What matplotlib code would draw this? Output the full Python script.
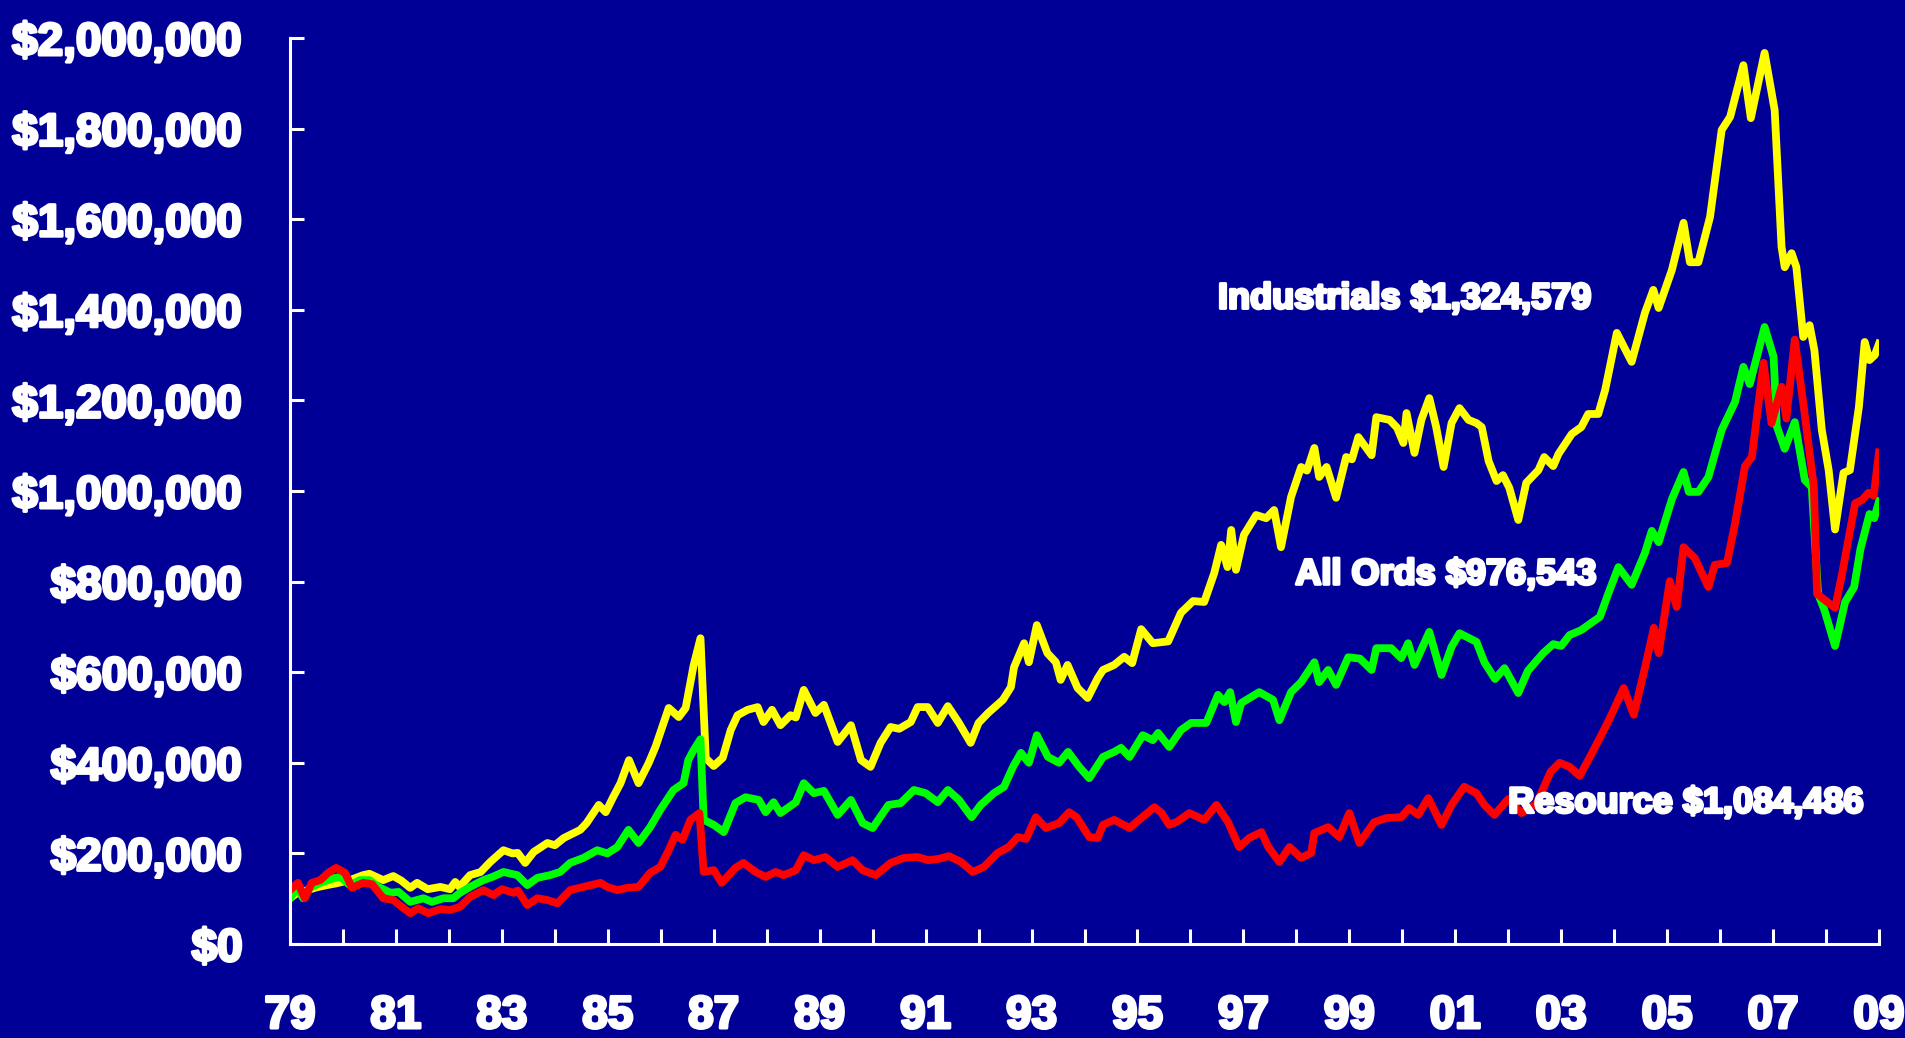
import matplotlib
matplotlib.use('Agg')
import matplotlib.pyplot as plt
import matplotlib.patheffects as pe
from matplotlib.ticker import FuncFormatter

# value of $100,000 invested (in $ thousands)
ind_years = [1979.0, 1979.13, 1979.3, 1979.5, 1979.7, 1979.88, 1980.13, 1980.38, 1980.5, 1980.76,
             1980.95, 1981.1, 1981.27, 1981.4, 1981.6, 1981.84, 1982.02, 1982.12, 1982.2, 1982.4,
             1982.6, 1982.78, 1983.03, 1983.2, 1983.3, 1983.44, 1983.6, 1983.86, 1984.0, 1984.17,
             1984.48, 1984.6, 1984.83, 1984.96, 1985.1, 1985.24, 1985.4, 1985.58, 1985.77, 1985.9,
             1986.15, 1986.34, 1986.47, 1986.62, 1986.75, 1986.85, 1987.0, 1987.17, 1987.32, 1987.45,
             1987.64, 1987.83, 1987.94, 1988.1, 1988.26, 1988.45, 1988.55, 1988.7, 1988.92, 1989.08,
             1989.34, 1989.59, 1989.78, 1989.96, 1990.15, 1990.34, 1990.5, 1990.72, 1990.85, 1991.04,
             1991.23, 1991.42, 1991.63, 1991.85, 1992.0, 1992.18, 1992.46, 1992.61, 1992.67, 1992.86,
             1992.95, 1993.1, 1993.3, 1993.46, 1993.55, 1993.68, 1993.87, 1994.06, 1994.25, 1994.35,
             1994.56, 1994.75, 1994.9, 1995.07, 1995.29, 1995.58, 1995.82, 1996.05, 1996.26, 1996.45,
             1996.58, 1996.7, 1996.77, 1996.86, 1997.01, 1997.24, 1997.43, 1997.58, 1997.71, 1997.9,
             1998.09, 1998.2, 1998.34, 1998.43, 1998.57, 1998.75, 1998.94, 1999.05, 1999.17, 1999.42,
             1999.51, 1999.76, 1999.9, 2000.02, 2000.08, 2000.23, 2000.36, 2000.51, 2000.64, 2000.78,
             2000.93, 2001.08, 2001.25, 2001.4, 2001.5, 2001.63, 2001.78, 2001.9, 2002.02, 2002.19,
             2002.34, 2002.57, 2002.68, 2002.85, 2002.95, 2003.2, 2003.38, 2003.51, 2003.7, 2003.83,
             2004.05, 2004.33, 2004.58, 2004.74, 2004.84, 2005.09, 2005.31, 2005.43, 2005.59, 2005.81,
             2006.03, 2006.19, 2006.44, 2006.58, 2006.84, 2007.03, 2007.16, 2007.22, 2007.35, 2007.44,
             2007.57, 2007.69, 2007.78, 2007.92, 2008.05, 2008.17, 2008.33, 2008.45, 2008.62, 2008.73,
             2008.82, 2008.92, 2009.0]
ind_vals = [101, 112, 118, 125, 130, 134, 141, 152, 155, 141,
            150, 140, 124, 135, 121, 126, 121, 137, 126, 152,
            159, 181, 207, 200, 201, 179, 203, 223, 218, 234,
            252, 267, 307, 291, 324, 355, 406, 355, 399, 435,
            521, 501, 521, 615, 675, 410, 393, 411, 472, 505,
            517, 523, 490, 517, 483, 505, 500, 561, 510, 528,
            446, 483, 406, 391, 444, 479, 475, 490, 523, 523,
            488, 525, 488, 444, 488, 510, 539, 567, 611, 664,
            622, 704, 642, 622, 583, 616, 565, 543, 587, 605,
            616, 634, 620, 695, 664, 668, 731, 757, 755, 819,
            881, 832, 914, 826, 903, 947, 940, 958, 876, 987,
            1053, 1045, 1095, 1031, 1053, 985, 1075, 1070, 1119, 1079,
            1163, 1157, 1140, 1106, 1172, 1084, 1157, 1205, 1141, 1053,
            1150, 1183, 1157, 1150, 1141, 1066, 1022, 1035, 1007, 936,
            1018, 1046, 1075, 1055, 1082, 1126, 1141, 1170, 1170, 1223,
            1349, 1285, 1393, 1444, 1404, 1488, 1592, 1505, 1505, 1605,
            1797, 1826, 1940, 1823, 1967, 1841, 1539, 1494, 1525, 1494,
            1340, 1366, 1311, 1135, 1046, 915, 1040, 1046, 1185, 1329,
            1289, 1300, 1325]

ao_years = [1979.0, 1979.13, 1979.25, 1979.38, 1979.57, 1979.85, 1979.95, 1980.13, 1980.32, 1980.5,
            1980.67, 1980.9, 1981.05, 1981.27, 1981.52, 1981.68, 1981.9, 1982.08, 1982.21, 1982.4,
            1982.65, 1982.82, 1983.03, 1983.29, 1983.48, 1983.67, 1983.91, 1984.1, 1984.29, 1984.54,
            1984.8, 1984.99, 1985.18, 1985.39, 1985.58, 1985.8, 1985.99, 1986.24, 1986.43, 1986.52,
            1986.62, 1986.75, 1986.81, 1987.0, 1987.19, 1987.41, 1987.6, 1987.85, 1987.98, 1988.13,
            1988.26, 1988.55, 1988.7, 1988.89, 1989.08, 1989.34, 1989.59, 1989.81, 1990.0, 1990.3,
            1990.53, 1990.78, 1991.0, 1991.23, 1991.42, 1991.63, 1991.87, 1992.04, 1992.29, 1992.48,
            1992.65, 1992.8, 1992.95, 1993.1, 1993.31, 1993.52, 1993.69, 1993.9, 1994.09, 1994.35,
            1994.56, 1994.69, 1994.85, 1995.1, 1995.29, 1995.39, 1995.6, 1995.82, 1996.01, 1996.3,
            1996.52, 1996.64, 1996.75, 1996.86, 1996.96, 1997.3, 1997.56, 1997.68, 1997.9, 1998.09,
            1998.34, 1998.43, 1998.6, 1998.75, 1998.98, 1999.2, 1999.42, 1999.51, 1999.79, 1999.98,
            2000.11, 2000.23, 2000.51, 2000.74, 2000.93, 2001.08, 2001.4, 2001.55, 2001.75, 2001.93,
            2002.19, 2002.37, 2002.66, 2002.85, 2003.0, 2003.16, 2003.38, 2003.57, 2003.73, 2003.9,
            2004.08, 2004.33, 2004.58, 2004.71, 2004.84, 2005.09, 2005.31, 2005.41, 2005.59, 2005.78,
            2006.03, 2006.28, 2006.44, 2006.56, 2006.84, 2007.01, 2007.07, 2007.22, 2007.41, 2007.6,
            2007.73, 2007.85, 2007.97, 2008.17, 2008.36, 2008.53, 2008.65, 2008.82, 2008.91, 2009.0]
ao_vals = [101, 124, 101, 124, 135, 146, 148, 130, 141, 141,
           126, 113, 115, 93, 101, 93, 101, 101, 113, 126,
           141, 148, 159, 152, 130, 146, 152, 159, 179, 190,
           207, 200, 214, 252, 223, 258, 296, 340, 355, 406,
           428, 452, 274, 263, 247, 311, 324, 318, 291, 313,
           289, 313, 355, 333, 338, 285, 318, 267, 256, 307,
           311, 340, 333, 313, 340, 318, 280, 307, 333, 347,
           391, 422, 400, 461, 413, 400, 424, 391, 366, 413,
           424, 433, 413, 461, 450, 466, 435, 472, 488, 488,
           550, 534, 556, 490, 532, 556, 539, 494, 556, 578,
           622, 578, 605, 572, 633, 630, 605, 653, 653, 631,
           664, 616, 689, 594, 656, 686, 667, 622, 585, 609,
           554, 603, 642, 662, 658, 682, 693, 709, 722, 777,
           832, 793, 863, 912, 887, 982, 1042, 998, 998, 1031,
           1135, 1196, 1274, 1236, 1362, 1296, 1143, 1093, 1152, 1024,
           1009, 773, 737, 658, 755, 788, 872, 949, 940, 977]

res_years = [1979.0, 1979.15, 1979.28, 1979.41, 1979.57, 1979.72, 1979.87, 1980.04, 1980.17, 1980.38,
             1980.55, 1980.76, 1980.95, 1981.11, 1981.27, 1981.42, 1981.61, 1981.84, 1982.02, 1982.21,
             1982.4, 1982.65, 1982.84, 1983.0, 1983.22, 1983.3, 1983.48, 1983.67, 1983.86, 1984.05,
             1984.29, 1984.54, 1984.86, 1984.99, 1985.18, 1985.37, 1985.58, 1985.8, 1985.99, 1986.15,
             1986.28, 1986.41, 1986.56, 1986.73, 1986.81, 1987.0, 1987.15, 1987.41, 1987.56, 1987.79,
             1987.98, 1988.17, 1988.32, 1988.55, 1988.7, 1988.89, 1989.11, 1989.34, 1989.62, 1989.81,
             1990.06, 1990.34, 1990.59, 1990.85, 1991.05, 1991.25, 1991.44, 1991.67, 1991.89, 1992.1,
             1992.36, 1992.57, 1992.74, 1992.9, 1993.08, 1993.27, 1993.52, 1993.71, 1993.85, 1994.09,
             1994.25, 1994.35, 1994.56, 1994.85, 1995.03, 1995.32, 1995.45, 1995.6, 1995.75, 1995.98,
             1996.26, 1996.49, 1996.71, 1996.92, 1997.11, 1997.34, 1997.47, 1997.68, 1997.87, 1998.09,
             1998.28, 1998.34, 1998.6, 1998.81, 1999.0, 1999.19, 1999.47, 1999.7, 1999.98, 2000.13,
             2000.3, 2000.49, 2000.74, 2000.93, 2001.17, 2001.4, 2001.55, 2001.74, 2002.0, 2002.25,
             2002.53, 2002.8, 2002.97, 2003.16, 2003.35, 2003.57, 2003.73, 2003.9, 2004.18, 2004.37,
             2004.58, 2004.75, 2004.84, 2005.05, 2005.18, 2005.31, 2005.52, 2005.78, 2005.9, 2006.13,
             2006.28, 2006.47, 2006.6, 2006.82, 2006.97, 2007.16, 2007.25, 2007.41, 2007.58, 2007.77,
             2007.83, 2007.98, 2008.17, 2008.3, 2008.43, 2008.55, 2008.68, 2008.8, 2008.9, 2009.0]
res_vals = [119, 135, 101, 135, 141, 157, 168, 157, 124, 135,
            132, 101, 97, 82, 68, 79, 68, 77, 75, 82,
            104, 119, 108, 121, 113, 118, 86, 101, 97, 90,
            119, 126, 135, 126, 119, 124, 126, 157, 170, 207,
            241, 230, 274, 289, 159, 163, 135, 168, 179, 159,
            148, 159, 152, 163, 196, 185, 192, 170, 185, 163,
            152, 179, 190, 192, 185, 188, 194, 181, 159, 170,
            201, 214, 236, 232, 280, 256, 267, 291, 280, 236,
            234, 263, 274, 256, 274, 302, 290, 263, 270, 289,
            274, 307, 269, 214, 234, 247, 214, 181, 214, 190,
            201, 245, 258, 236, 289, 223, 269, 278, 280, 300,
            285, 322, 263, 307, 347, 333, 307, 285, 320, 289,
            309, 380, 400, 391, 371, 419, 455, 494, 565, 506,
            609, 698, 642, 801, 744, 876, 852, 788, 837, 841,
            927, 1055, 1075, 1283, 1150, 1230, 1160, 1334, 1185, 1009,
            773, 759, 742, 815, 898, 973, 980, 996, 990, 1085]

labels = ['Industrials $1,324,579', 'All Ords $976,543', 'Resource $1,084,486']
label_pos = [(1996.52, 1424), (1997.98, 815), (2002.0, 311)]

BG = '#000096'
FONT = 'Liberation Sans'
bold_fx = [pe.withStroke(linewidth=2.2, foreground='white')]

fig = plt.figure(figsize=(19.05, 10.38), dpi=100, facecolor=BG)
ax = fig.add_axes([290 / 1905, 94 / 1038, 1589 / 1905, 906 / 1038], facecolor=BG)

ax.plot(ind_years, ind_vals, color='#ffff00', lw=5.6, solid_joinstyle='round')
ax.plot(ao_years, ao_vals, color='#00ff00', lw=5.6, solid_joinstyle='round')
ax.plot(res_years, res_vals, color='#ff0000', lw=5.6, solid_joinstyle='round')

for txt, (x, y) in zip(labels, label_pos):
    ax.text(x, y, txt, color='white', fontsize=26, fontweight='bold', family=FONT,
            va='center', ha='left', path_effects=bold_fx, zorder=5)

ax.set_xlim(1979, 2009)
ax.set_ylim(0, 2000)
ax.set_xticks(range(1979, 2010))
ax.set_xticklabels(['%02d' % (y % 100) if (y - 1979) % 2 == 0 else '' for y in range(1979, 2010)])
ax.set_yticks(range(0, 2001, 200))
ax.yaxis.set_major_formatter(FuncFormatter(lambda v, p: '${:,}'.format(int(v * 1000))))

for s in ['top', 'right']:
    ax.spines[s].set_visible(False)
for s in ['left', 'bottom']:
    ax.spines[s].set_color('white')
    ax.spines[s].set_linewidth(2.2)
ax.tick_params(axis='x', direction='in', length=11, width=2.2, color='white', pad=36)
ax.tick_params(axis='y', direction='in', length=10, width=2.2, color='white', pad=34)

for lbl in ax.get_xticklabels() + ax.get_yticklabels():
    lbl.set_color('white')
    lbl.set_fontsize(33)
    lbl.set_fontweight('bold')
    lbl.set_family(FONT)
    lbl.set_path_effects(bold_fx)

fig.savefig('out.png', dpi=100, facecolor=BG)
